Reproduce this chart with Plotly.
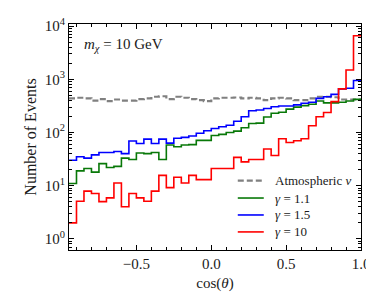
import numpy as np
import plotly.graph_objects as go

# bin edges of cos(theta)
bin_edges = [round(-0.95 + 0.05 * i, 2) for i in range(40)]

atmospheric = [437, 450, 437, 397, 425, 388, 417, 397, 397, 425, 437, 470, 480,
               425, 470, 450, 425, 405, 388, 437, 450, 450, 455, 437, 450,
               437, 405, 437, 450, 437, 405, 405, 437, 470, 470, 460, 417, 417, 417]
gamma_1_1 = [11, 19, 21, 18, 26, 22, 23, 33, 31, 41, 40, 42, 31,
             58, 54, 58, 59, 71, 71, 88, 92, 100, 106, 123, 148,
             150, 195, 230, 240, 275, 300, 320, 340, 390, 360, 360, 370, 390, 420]
gamma_1_5 = [30, 35, 33, 38, 42, 42, 44, 40, 69, 62, 75, 62, 75,
             63, 78, 81, 86, 97, 108, 119, 128, 137, 163, 198, 257,
             265, 283, 305, 315, 315, 330, 355, 370, 437, 470, 520, 660, 680, 950]
gamma_10 = [2.0, 5.1, 7.9, 7.1, 5.0, 5.9, 11.2, 4.0, 7.1, 5.9, 5.1, 7.9, 15.6,
            9.2, 14.4, 11.2, 15.6, 13, 13, 21, 21, 21, 34, 28, 31,
            31, 49, 37, 76, 65, 70, 76, 134, 198, 238, 380, 660, 1500, 6600]

series_names = ["Atmospheric <i>\u03bd</i>", "<i>\u03b3</i> = 1.1", "<i>\u03b3</i> = 1.5", "<i>\u03b3</i> = 10"]
series_colors = ["#808080", "#087808", "#0000ff", "#ff0000"]

x_ticks = [-0.5, 0.0, 0.5, 1.0]
x_tick_text = ["\u22120.5", "0.0", "0.5", "1.0"]
y_ticks = [1, 10, 100, 1000, 10000]
y_tick_text = ["10<sup>0</sup>", "10<sup>1</sup>", "10<sup>2</sup>", "10<sup>3</sup>", "10<sup>4</sup>"]
y_minor_ticks = [m * 10 ** e for e in range(-1, 5) for m in range(2, 10)]

FONT = "Liberation Serif"
TXT = "#1a1a1a"


def step_trace(vals, name, color, width=1.6, dash=None):
    return go.Scatter(
        x=bin_edges,
        y=list(vals) + [vals[-1]],
        mode="lines",
        line=dict(shape="hv", color=color, width=width, dash=dash),
        name=name,
    )


all_vals = [atmospheric, gamma_1_1, gamma_1_5, gamma_10]
fig = go.Figure()
for i, (vals, name, col) in enumerate(zip(all_vals, series_names, series_colors)):
    if i == 0:
        fig.add_trace(step_trace(vals, name, col, width=2.2, dash="6px,3px"))
    else:
        fig.add_trace(step_trace(vals, name, col))

axis_common = dict(
    showline=True, linecolor="black", linewidth=1.2, mirror="allticks",
    ticks="inside", ticklen=5, tickwidth=1, tickcolor="black",
    showgrid=False, zeroline=False, automargin=False,
    tickfont=dict(family=FONT, size=15, color=TXT),
)

fig.update_xaxes(
    range=[-0.95, 1.0], tickvals=x_ticks, ticktext=x_tick_text,
    minor=dict(dtick=0.1, tick0=0, ticks="inside", ticklen=3, tickcolor="black", showgrid=False),
    title=dict(text="cos(<i>\u03b8</i>)", font=dict(family=FONT, size=15, color=TXT), standoff=6),
    **axis_common,
)
fig.update_yaxes(
    type="log", range=[-0.21, 4.04], tickvals=y_ticks, ticktext=y_tick_text,
    minor=dict(tickmode="array", tickvals=y_minor_ticks, ticks="inside", ticklen=3,
               tickcolor="black", showgrid=False),
    title=dict(text="Number of Events", font=dict(family=FONT, size=16, color=TXT), standoff=4),
    **axis_common,
)

fig.add_annotation(
    x=0.045, y=0.955, xref="paper", yref="paper", xanchor="left", yanchor="top",
    text="<i>m</i><sub><i>\u03c7</i></sub> = 10 GeV", showarrow=False,
    font=dict(family=FONT, size=15, color=TXT),
)

# manual legend (lower right, inside the axes)
leg_rows = [0.307, 0.230, 0.155, 0.080]
for i, (name, col, yy) in enumerate(zip(series_names, series_colors, leg_rows)):
    fig.add_shape(
        type="line", xref="paper", yref="paper", x0=0.578, x1=0.667, y0=yy, y1=yy,
        line=dict(color=col, width=2.2 if i == 0 else 1.6, dash="6px,3px" if i == 0 else None),
    )
    fig.add_annotation(
        x=0.697, y=yy, xref="paper", yref="paper", xanchor="left", yanchor="middle",
        text=name, showarrow=False, font=dict(family=FONT, size=13, color=TXT),
    )

fig.update_layout(
    width=374, height=299,
    margin=dict(l=61, r=21, t=16, b=57),
    paper_bgcolor="white", plot_bgcolor="white",
    showlegend=False,
)

fig.write_html("out.html")
